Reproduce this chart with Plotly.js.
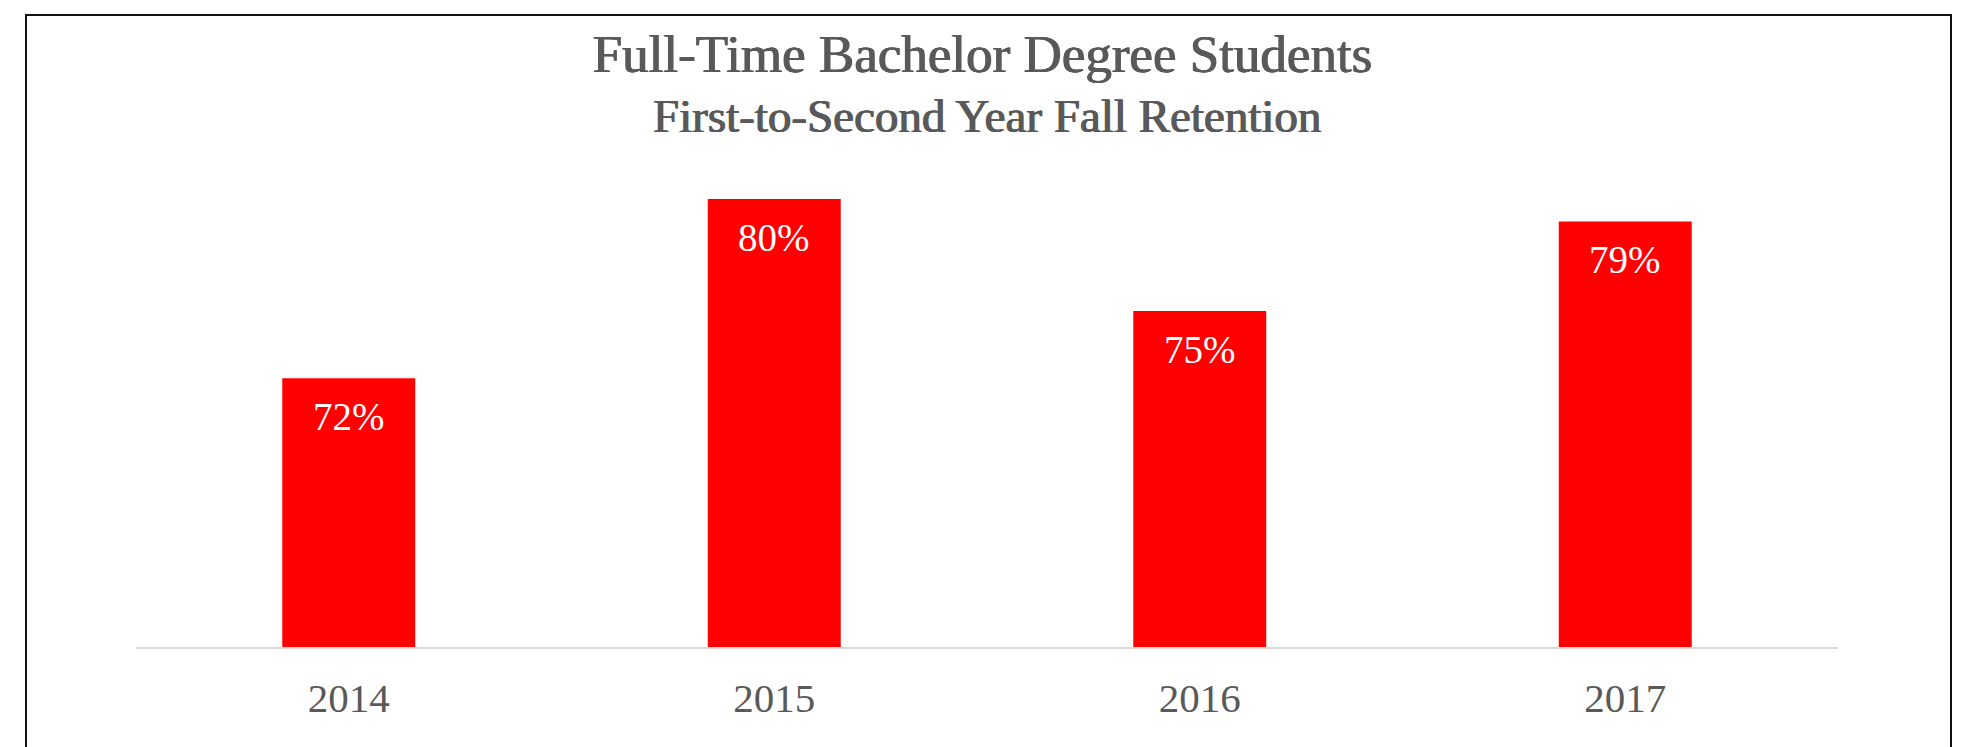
<!DOCTYPE html>
<html>
<head>
<meta charset="utf-8">
<script src="https://cdn.plot.ly/plotly-3.0.1.min.js"></script>
<style>
  html, body { margin: 0; padding: 0; background: #ffffff; overflow: hidden; }
  #chart { width: 1965px; height: 747px; }
  #frame { position: absolute; left: 25px; top: 14px; width: 1923px; height: 800px;
           border: 2px solid #111; pointer-events: none; }
</style>
</head>
<body>
<div id="chart"></div>
<div id="frame"></div>
<script>
const categories = ['2014', '2015', '2016', '2017'];
const retention = [72, 80, 75, 79];
const valueLabels = ['72%', '80%', '75%', '79%'];
const titleLine1 = 'Full-Time Bachelor Degree Students';
const titleLine2 = 'First-to-Second Year Fall Retention';

const serif = '"Liberation Serif", "Times New Roman", serif';
const gray = '#595959';
const thicken = '0.6px 0 0 #595959, -0.6px 0 0 #595959';

const trace = {
  type: 'bar',
  x: categories,
  y: retention,
  marker: { color: '#ff0000', line: { width: 0 } },
  hoverinfo: 'skip'
};

const labelAnnotations = categories.map((c, i) => ({
  x: i, y: retention[i], xref: 'x', yref: 'y',
  text: valueLabels[i], showarrow: false,
  yanchor: 'middle', yshift: -38,
  font: { family: serif, size: 39, color: '#ffffff' }
}));

const layout = {
  width: 1965, height: 747,
  paper_bgcolor: '#ffffff', plot_bgcolor: '#ffffff',
  margin: { l: 136, r: 127, t: 87, b: 100, pad: 0 },
  showlegend: false,
  bargap: 0.6875,
  title: {
    text: titleLine1,
    font: { family: serif, size: 53, color: gray, shadow: thicken },
    x: 0.5, xref: 'container', xanchor: 'center',
    y: 1 - 35 / 747, yref: 'container', yanchor: 'top'
  },
  xaxis: {
    type: 'category',
    categoryorder: 'array', categoryarray: categories,
    range: [-0.5, categories.length - 0.5], autorange: false,
    showline: true, linecolor: '#d9d9d9', linewidth: 2,
    showgrid: false, zeroline: false, ticks: '',
    ticklabelstandoff: 14,
    tickfont: { family: serif, size: 41, color: gray }
  },
  yaxis: {
    range: [60, 85], autorange: false, visible: false, showgrid: false, zeroline: false
  },
  annotations: [
    {
      text: titleLine2, showarrow: false,
      x: 0.5, xref: 'paper', xanchor: 'center',
      y: 0.998, yref: 'paper', yanchor: 'top',
      font: { family: serif, size: 47, color: gray, shadow: thicken }
    }
  ].concat(labelAnnotations)
};

Plotly.newPlot('chart', [trace], layout, { displayModeBar: false, staticPlot: true });
</script>
</body>
</html>
